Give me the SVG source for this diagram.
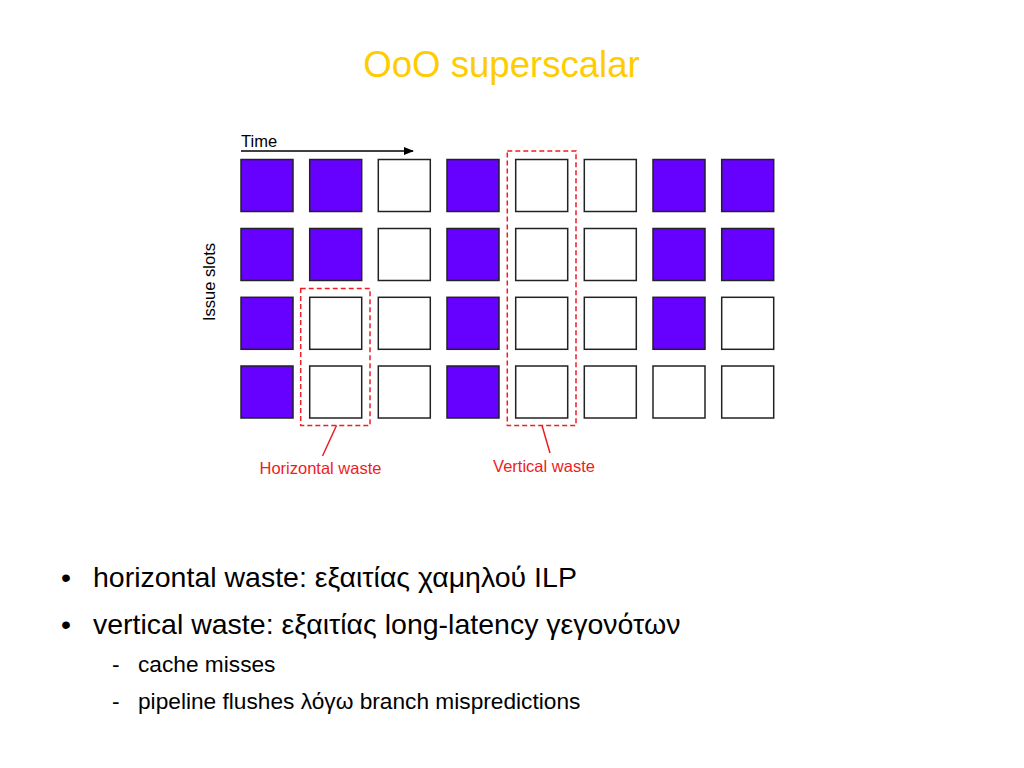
<svg xmlns="http://www.w3.org/2000/svg" width="1024" height="768" viewBox="0 0 1024 768">
<style>
text{font-family:"Liberation Sans",Arial,sans-serif}
.f{fill:#6600FF;stroke:#222;stroke-width:1.5}
.e{fill:#fff;stroke:#222;stroke-width:1.5}
.w{fill:none;stroke:#EE1C24;stroke-width:1.5;stroke-dasharray:5 3}
.l{stroke:#EE1C24;stroke-width:1.5;fill:none}
.rl{fill:#EE1C24;font-size:16.5px}
.b{font-size:28.5px;fill:#000}
.s{font-size:22.7px;fill:#000}
</style>
<defs>
<marker id="ah" markerWidth="10" markerHeight="8" refX="9" refY="4" orient="auto" markerUnits="userSpaceOnUse">
<path d="M0,0 L10,4 L0,8 Z" fill="#000"/>
</marker>
</defs>
<rect width="1024" height="768" fill="#fff"/>
<text id="title" x="501.5" y="77" text-anchor="middle" font-size="36.6" fill="#FFCC00">OoO superscalar</text>
<g id="axes">
<text x="241" y="147" font-size="16.5">Time</text>
<text transform="translate(215,282) rotate(-90)" text-anchor="middle" font-size="16.5">Issue slots</text>
</g>
<g id="connectors">
<line x1="241" y1="151" x2="413" y2="151" stroke="#000" stroke-width="1.5" marker-end="url(#ah)"/>
<line class="l" x1="336.5" y1="425.5" x2="322.5" y2="456"/>
<line class="l" x1="542" y1="425.5" x2="550" y2="453"/>
</g>
<g id="grid">
<g id="row1">
<rect class="f" x="241" y="159.5" width="52" height="52"/>
<rect class="f" x="309.7" y="159.5" width="52" height="52"/>
<rect class="e" x="378.3" y="159.5" width="52" height="52"/>
<rect class="f" x="447" y="159.5" width="52" height="52"/>
<rect class="e" x="515.7" y="159.5" width="52" height="52"/>
<rect class="e" x="584.3" y="159.5" width="52" height="52"/>
<rect class="f" x="653" y="159.5" width="52" height="52"/>
<rect class="f" x="721.7" y="159.5" width="52" height="52"/>
</g>
<g id="row2">
<rect class="f" x="241" y="228.5" width="52" height="52"/>
<rect class="f" x="309.7" y="228.5" width="52" height="52"/>
<rect class="e" x="378.3" y="228.5" width="52" height="52"/>
<rect class="f" x="447" y="228.5" width="52" height="52"/>
<rect class="e" x="515.7" y="228.5" width="52" height="52"/>
<rect class="e" x="584.3" y="228.5" width="52" height="52"/>
<rect class="f" x="653" y="228.5" width="52" height="52"/>
<rect class="f" x="721.7" y="228.5" width="52" height="52"/>
</g>
<g id="row3">
<rect class="f" x="241" y="297.3" width="52" height="52"/>
<rect class="e" x="309.7" y="297.3" width="52" height="52"/>
<rect class="e" x="378.3" y="297.3" width="52" height="52"/>
<rect class="f" x="447" y="297.3" width="52" height="52"/>
<rect class="e" x="515.7" y="297.3" width="52" height="52"/>
<rect class="e" x="584.3" y="297.3" width="52" height="52"/>
<rect class="f" x="653" y="297.3" width="52" height="52"/>
<rect class="e" x="721.7" y="297.3" width="52" height="52"/>
</g>
<g id="row4">
<rect class="f" x="241" y="366" width="52" height="52"/>
<rect class="e" x="309.7" y="366" width="52" height="52"/>
<rect class="e" x="378.3" y="366" width="52" height="52"/>
<rect class="f" x="447" y="366" width="52" height="52"/>
<rect class="e" x="515.7" y="366" width="52" height="52"/>
<rect class="e" x="584.3" y="366" width="52" height="52"/>
<rect class="e" x="653" y="366" width="52" height="52"/>
<rect class="e" x="721.7" y="366" width="52" height="52"/>
</g>
</g>
<g id="horizontal-waste">
<rect class="w" x="300.7" y="288.5" width="69.3" height="137"/>
<text class="rl" x="320.5" y="474.3" text-anchor="middle">Horizontal waste</text>
</g>
<g id="vertical-waste">
<rect class="w" x="507.3" y="151" width="68.7" height="274.5"/>
<text class="rl" x="544" y="472.3" text-anchor="middle">Vertical waste</text>
</g>
<g id="bullets">
<text class="b" x="61" y="587">•</text>
<text class="b" x="93" y="587">horizontal waste: εξαιτίας χαμηλού ILP</text>
<text class="b" x="61" y="634">•</text>
<text class="b" x="93" y="634">vertical waste: εξαιτίας long-latency γεγονότων</text>
<text class="s" x="112" y="672">-</text>
<text class="s" x="138" y="672">cache misses</text>
<text class="s" x="112" y="709">-</text>
<text class="s" x="138" y="709">pipeline flushes λόγω branch mispredictions</text>
</g>
</svg>
